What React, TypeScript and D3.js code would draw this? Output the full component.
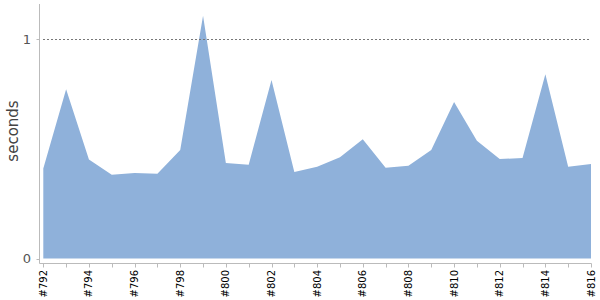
import React from "react";
import * as d3 from "d3";

const builds = [792,793,794,795,796,797,798,799,800,801,802,803,804,805,806,807,808,809,810,811,812,813,814,815,816];
const seconds = [0.411,0.772,0.452,0.382,0.390,0.387,0.495,1.108,0.436,0.428,0.814,0.395,0.419,0.462,0.544,0.414,0.423,0.495,0.714,0.537,0.454,0.458,0.840,0.419,0.431];
const yTicks = [0, 1];

export default function App() {
  const W = 600, H = 300;
  const x = d3.scaleLinear().domain([792, 816]).range([43.3, 591]);
  const y = d3.scaleLinear().domain([0, 1]).range([258.5, 39.3]);
  const data = builds.map((b, i) => ({ b, v: seconds[i] }));
  const area = d3.area<{ b: number; v: number }>()
    .x(d => x(d.b))
    .y0(y(0))
    .y1(d => y(d.v));
  const axisX = 39.5;
  const axisY = 263.5;
  const font = "DejaVu Sans, sans-serif";
  return (
    <svg width={W} height={H} style={{ position: "absolute", left: 0, top: 0 }}>
      <path d={area(data) || ""} fill="#8fb1da" />
      <line x1={43} x2={591} y1={Math.round(y(1)) + 0.5} y2={Math.round(y(1)) + 0.5}
        stroke="#777" strokeDasharray="2,2" strokeWidth={1} />
      <line x1={axisX} x2={axisX} y1={4} y2={axisY} stroke="#bbb" strokeWidth={1} />
      <line x1={axisX} x2={591.5} y1={axisY} y2={axisY} stroke="#bbb" strokeWidth={1} />
      {yTicks.map(t => (
        <g key={t}>
          <line x1={axisX - 3} x2={axisX} y1={Math.round(y(t)) + 0.5} y2={Math.round(y(t)) + 0.5} stroke="#bbb" />
          <text x={31} y={y(t)} dy="0.35em" textAnchor="end" fontFamily={font} fontSize={13} fill="#555">{t}</text>
        </g>
      ))}
      {builds.map(b => (
        <g key={b}>
          <line x1={Math.round(x(b)) + 0.5} x2={Math.round(x(b)) + 0.5} y1={axisY} y2={axisY + 4} stroke="#bbb" />
          {b % 2 === 0 && (
            <text transform={`translate(${x(b)},270) rotate(-90)`} dy="0.35em" textAnchor="end"
              fontFamily={font} fontSize={10} fill="#000">{`#${b}`}</text>
          )}
        </g>
      ))}
      <text transform="translate(13,131) rotate(-90)" dy="0.35em" textAnchor="middle"
        fontFamily={font} fontSize={15} fill="#444">seconds</text>
    </svg>
  );
}
